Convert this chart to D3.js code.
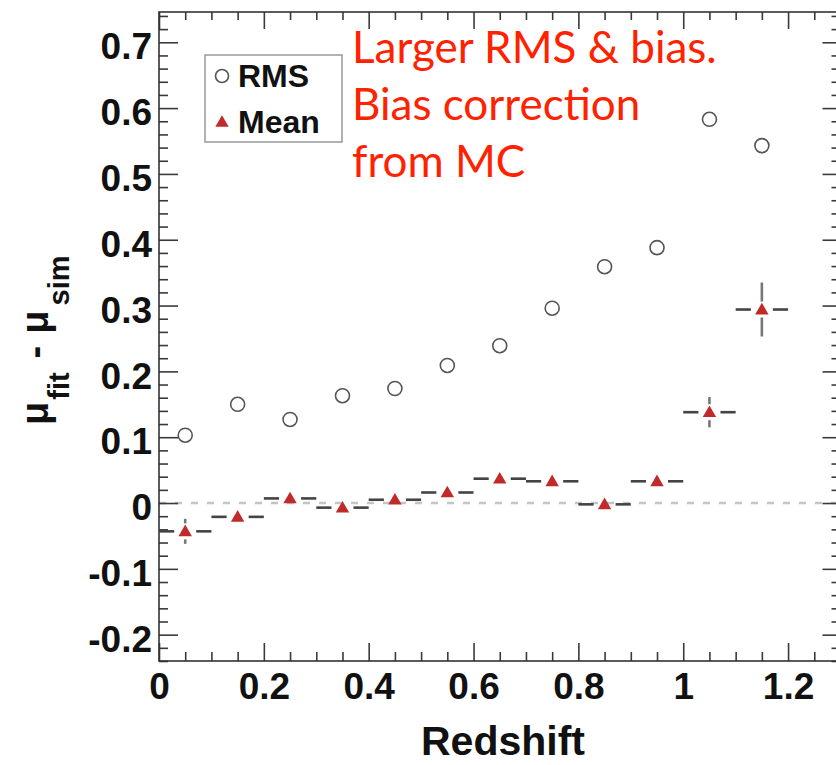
<!DOCTYPE html>
<html>
<head>
<meta charset="utf-8">
<script src="https://cdn.jsdelivr.net/npm/d3@7"></script>
<style>
  html, body { margin: 0; padding: 0; background: #fff; }
  svg { display: block; }
</style>
</head>
<body>
<svg id="chart" width="836" height="765"></svg>
<script>
'use strict';

// bin centres (redshift) and the two series
var binCenters = [0.05, 0.15, 0.25, 0.35, 0.45, 0.55, 0.65, 0.75, 0.85, 0.95, 1.05, 1.15];
var rmsValues = [0.103, 0.150, 0.127, 0.163, 0.174, 0.209, 0.239, 0.296, 0.359, 0.388, 0.583, 0.543];
var meanValues = [-0.043, -0.021, 0.007, -0.007, 0.005, 0.016, 0.037, 0.033, -0.002, 0.033, 0.138, 0.294];
var meanErrors = [0.019, 0.008, 0.008, 0.008, 0.008, 0.008, 0.008, 0.008, 0.008, 0.008, 0.023, 0.041];
var binHalfWidth = 0.05;

var xMajorTicks = [0, 0.2, 0.4, 0.6, 0.8, 1, 1.2];
var yMajorTicks = [-0.2, -0.1, 0, 0.1, 0.2, 0.3, 0.4, 0.5, 0.6, 0.7];
var legendLabels = ['RMS', 'Mean'];
var noteLines = ['Larger RMS & bias.', 'Bias correction', 'from MC'];

var svg = d3.select('#chart');

var frame = { left: 159, right: 840.5, top: 12, bottom: 661 };

var x = d3.scaleLinear().domain([0, 1.3]).range([frame.left, frame.right]);
var y = d3.scaleLinear().domain([-0.24, 0.746]).range([frame.bottom, frame.top]);

var xMinor = d3.range(0, 1.3001, 0.05).filter(function (v) {
    return Math.abs(v / 0.2 - Math.round(v / 0.2)) > 1e-6;
});
var yMinor = d3.range(-0.24, 0.7461, 0.02).filter(function (v) {
    return Math.abs(v / 0.1 - Math.round(v / 0.1)) > 1e-6;
});

var fontAxis = '"Liberation Sans", Arial, Helvetica, sans-serif';
var tickColor = '#3a3a3a';

// ROOT prints a plain hyphen for negative numbers
var fmt = function (v) {
    return d3.format('~g')(v).replace('\u2212', '-');
};

function styleAxis(g) {
    g.select('.domain').remove();
    g.selectAll('.tick line').attr('stroke', tickColor).attr('stroke-width', 1.6);
}

// zero reference line
svg.append('line')
    .attr('x1', frame.left).attr('x2', frame.right)
    .attr('y1', y(0)).attr('y2', y(0))
    .attr('stroke', '#c4c4c4')
    .attr('stroke-width', 2.6)
    .attr('stroke-dasharray', '7,9');

// bottom axis
svg.append('g')
    .attr('transform', 'translate(0,' + frame.bottom + ')')
    .call(d3.axisBottom(x).tickValues(xMinor).tickSize(-9).tickFormat(''))
    .call(styleAxis);
svg.append('g')
    .attr('transform', 'translate(0,' + frame.bottom + ')')
    .call(d3.axisBottom(x).tickValues(xMajorTicks).tickSize(-18).tickPadding(12)
        .tickFormat(fmt))
    .call(styleAxis)
    .call(function (g) {
        g.selectAll('text')
            .attr('fill', '#111')
            .style('font-family', fontAxis)
            .style('font-weight', 'bold')
            .style('font-size', '37px');
    });

// top axis (ticks only)
svg.append('g')
    .attr('transform', 'translate(0,' + frame.top + ')')
    .call(d3.axisTop(x).tickValues(xMinor).tickSize(-8).tickFormat(''))
    .call(styleAxis);
svg.append('g')
    .attr('transform', 'translate(0,' + frame.top + ')')
    .call(d3.axisTop(x).tickValues(xMajorTicks).tickSize(-17).tickFormat(''))
    .call(styleAxis);

// left axis
svg.append('g')
    .attr('transform', 'translate(' + frame.left + ',0)')
    .call(d3.axisLeft(y).tickValues(yMinor).tickSize(-9).tickFormat(''))
    .call(styleAxis);
svg.append('g')
    .attr('transform', 'translate(' + frame.left + ',0)')
    .call(d3.axisLeft(y).tickValues(yMajorTicks).tickSize(-19).tickPadding(7)
        .tickFormat(fmt))
    .call(styleAxis)
    .call(function (g) {
        g.selectAll('text')
            .attr('fill', '#111')
            .attr('dy', '0.45em')
            .style('font-family', fontAxis)
            .style('font-weight', 'bold')
            .style('font-size', '37px');
    });

// right axis (ticks only)
svg.append('g')
    .attr('transform', 'translate(' + frame.right + ',0)')
    .call(d3.axisRight(y).tickValues(yMinor).tickSize(-9).tickFormat(''))
    .call(styleAxis);
svg.append('g')
    .attr('transform', 'translate(' + frame.right + ',0)')
    .call(d3.axisRight(y).tickValues(yMajorTicks).tickSize(-18).tickFormat(''))
    .call(styleAxis);

// frame
svg.append('rect')
    .attr('x', frame.left).attr('y', frame.top)
    .attr('width', frame.right - frame.left)
    .attr('height', frame.bottom - frame.top)
    .attr('fill', 'none')
    .attr('stroke', '#333')
    .attr('stroke-width', 1.6);

// axis titles
svg.append('text')
    .attr('x', 503).attr('y', 755)
    .attr('text-anchor', 'middle')
    .attr('fill', '#111')
    .style('font-family', fontAxis)
    .style('font-weight', 'bold')
    .style('font-size', '41px')
    .text('Redshift');

var yTitle = svg.append('text')
    .attr('transform', 'translate(48,425) rotate(-90)')
    .attr('fill', '#111')
    .style('font-family', fontAxis)
    .style('font-weight', 'bold')
    .style('font-size', '38px');
yTitle.append('tspan').text('\u03bc');
yTitle.append('tspan').attr('dy', 21).attr('dx', 2).style('font-size', '29px').text('fit');
yTitle.append('tspan').attr('dy', -21).attr('dx', 14).text('-');
yTitle.append('tspan').attr('dx', 12).text('\u03bc');
yTitle.append('tspan').attr('dy', 21).attr('dx', 5).style('font-size', '29px').text('sim');

// mean error bars (ROOT style, with gap round the marker)
var gapX = 11, gapY = 8;
var meanPoints = binCenters.map(function (c, i) {
    return { x: c, v: meanValues[i], e: meanErrors[i] };
});

var bars = svg.append('g')
    .attr('stroke', '#444')
    .attr('stroke-width', 2.6);

bars.selectAll('line.hl')
    .data(meanPoints)
    .enter()
    .append('line')
    .attr('class', 'hl')
    .attr('x1', function (d) { return x(d.x - binHalfWidth); })
    .attr('x2', function (d) { return x(d.x) - gapX; })
    .attr('y1', function (d) { return y(d.v); })
    .attr('y2', function (d) { return y(d.v); });

bars.selectAll('line.hr')
    .data(meanPoints)
    .enter()
    .append('line')
    .attr('class', 'hr')
    .attr('x1', function (d) { return x(d.x) + gapX; })
    .attr('x2', function (d) { return x(d.x + binHalfWidth); })
    .attr('y1', function (d) { return y(d.v); })
    .attr('y2', function (d) { return y(d.v); });

var bigErr = meanPoints.filter(function (d) {
    return y(d.v) - y(d.v + d.e) > gapY;
});
bars.selectAll('line.vu')
    .data(bigErr)
    .enter()
    .append('line')
    .attr('class', 'vu')
    .attr('stroke', '#777')
    .attr('x1', function (d) { return x(d.x); })
    .attr('x2', function (d) { return x(d.x); })
    .attr('y1', function (d) { return y(d.v) - gapY; })
    .attr('y2', function (d) { return y(d.v + d.e); });
bars.selectAll('line.vd')
    .data(bigErr)
    .enter()
    .append('line')
    .attr('class', 'vd')
    .attr('stroke', '#777')
    .attr('x1', function (d) { return x(d.x); })
    .attr('x2', function (d) { return x(d.x); })
    .attr('y1', function (d) { return y(d.v) + gapY; })
    .attr('y2', function (d) { return y(d.v - d.e); });

// RMS circles
svg.append('g')
    .selectAll('circle')
    .data(binCenters)
    .enter()
    .append('circle')
    .attr('cx', function (d) { return x(d); })
    .attr('cy', function (d, i) { return y(rmsValues[i]); })
    .attr('r', 7)
    .attr('fill', 'none')
    .attr('stroke', '#555')
    .attr('stroke-width', 1.6);

// mean triangles
var tri = d3.symbol().type(d3.symbolTriangle).size(78);
svg.append('g')
    .selectAll('path')
    .data(meanPoints)
    .enter()
    .append('path')
    .attr('d', tri)
    .attr('transform', function (d) {
        return 'translate(' + x(d.x) + ',' + (y(d.v) + 1) + ')';
    })
    .attr('fill', '#c12a2a');

// legend
var legend = svg.append('g');
legend.append('rect')
    .attr('x', 205).attr('y', 55)
    .attr('width', 137).attr('height', 87)
    .attr('fill', '#fff')
    .attr('stroke', '#999')
    .attr('stroke-width', 1.5);
legend.append('circle')
    .attr('cx', 222).attr('cy', 76).attr('r', 6.5)
    .attr('fill', 'none').attr('stroke', '#555').attr('stroke-width', 1.6);
legend.append('path')
    .attr('d', tri)
    .attr('transform', 'translate(222,123)')
    .attr('fill', '#c12a2a');
legend.selectAll('text')
    .data(legendLabels)
    .enter()
    .append('text')
    .attr('x', 238)
    .attr('y', function (d, i) { return 87 + i * 46; })
    .attr('fill', '#111')
    .style('font-family', fontAxis)
    .style('font-weight', 'bold')
    .style('font-size', '32px')
    .text(function (d) { return d; });

// annotation
svg.append('g')
    .selectAll('text')
    .data(noteLines)
    .enter()
    .append('text')
    .attr('x', 352)
    .attr('y', function (d, i) { return 63 + i * 57; })
    .attr('fill', '#ff2200')
    .style('font-family', 'Lato, "Open Sans", sans-serif')
    .style('font-size', '44px')
    .text(function (d) { return d; });
</script>
</body>
</html>
